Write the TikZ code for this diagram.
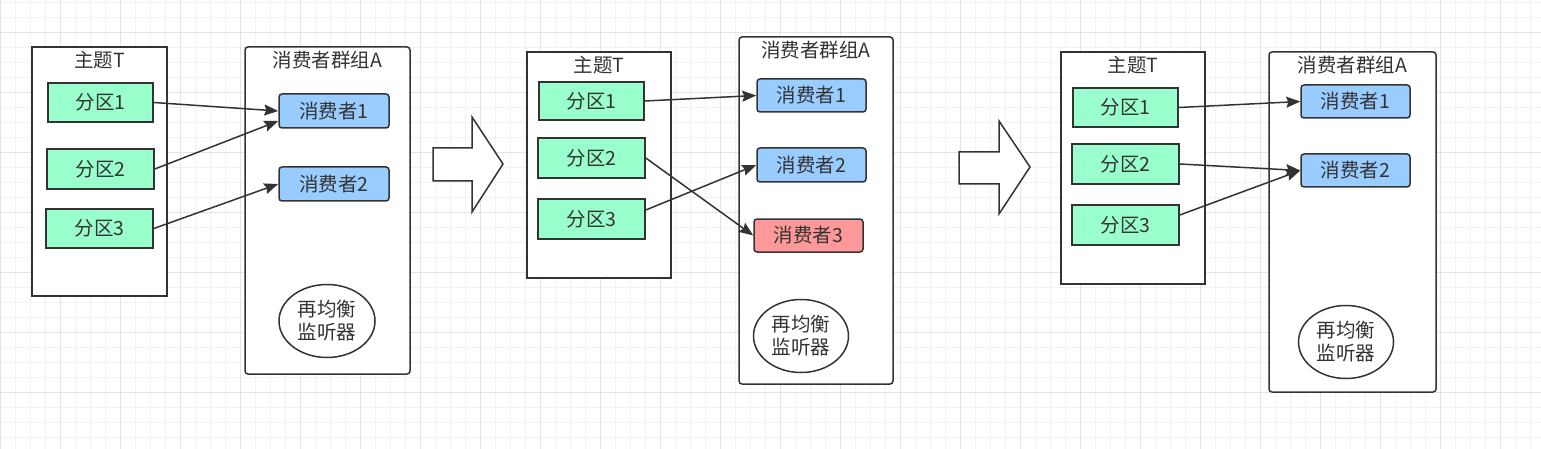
\documentclass[tikz,border=0pt]{standalone}
\usepackage{fontspec}
\setmainfont{Noto Sans CJK SC}
\usetikzlibrary{arrows.meta,shapes.geometric}
\definecolor{gridminor}{HTML}{F2F2F2}
\definecolor{gridmajor}{HTML}{E4E4E4}
\definecolor{pgreen}{HTML}{99FFCC}
\definecolor{cblue}{HTML}{99CCFF}
\definecolor{cred}{HTML}{FF9999}
\definecolor{edge}{HTML}{333333}
\tikzset{
  txt/.style={font=\fontsize{19.5}{23}\selectfont, text=edge},
  frame/.style={draw=edge, line width=1.5pt, fill=white, inner sep=0pt},
  gframe/.style={frame, rounded corners=3pt},
  part/.style={draw=edge, line width=1.5pt, fill=pgreen, inner sep=0pt, txt},
  cons/.style={draw=edge, line width=1.5pt, fill=cblue, rounded corners=3pt, inner sep=0pt, txt},
  consr/.style={cons, fill=cred},
  lis/.style={ellipse, draw=edge, line width=1.5pt, fill=white, inner sep=0pt, txt, align=center},
  ttl/.style={txt, inner sep=0pt},
  link/.style={draw=edge, line width=1.5pt, -{Stealth[length=14pt,width=11pt,inset=2pt]}},
  bigarrow/.style={draw=edge, line width=1.5pt, fill=white, line join=miter},
}
\begin{document}
\begin{tikzpicture}[x=1pt,y=-1pt]
\useasboundingbox (0,0) rectangle (1541,449);
% background grid
\fill[white] (0,0) rectangle (1541,449);
\foreach \i in {0,...,103} {\draw[gridminor, line width=0.8pt] (0.7+15*\i,0) -- (0.7+15*\i,449);}
\foreach \j in {0,...,29} {\draw[gridminor, line width=0.8pt] (0,2+15*\j) -- (1541,2+15*\j);}
\foreach \i in {0,...,25} {\draw[gridmajor, line width=0.8pt] (0.7+60*\i,0) -- (0.7+60*\i,449);}
\foreach \j in {0,...,7} {\draw[gridmajor, line width=0.8pt] (0,32+60*\j) -- (1541,32+60*\j);}

% ---------- panel 1 ----------
\node[frame, minimum width=135pt, minimum height=249pt] (t1) at (99.5,171.5) {};
\node[ttl] (t1t) at (99.5,60) {主题T};
\node[part, minimum width=105pt, minimum height=39pt] (p11) at (100.5,102.5) {分区1};
\node[part, minimum width=107pt, minimum height=40pt] (p12) at (100.5,169) {分区2};
\node[part, minimum width=107pt, minimum height=39pt] (p13) at (99.5,228.5) {分区3};
\node[gframe, minimum width=165pt, minimum height=327pt] (g1) at (327.5,210.5) {};
\node[ttl] (g1t) at (327.5,60) {消费者群组A};
\node[cons, minimum width=110pt, minimum height=34pt] (c11) at (334,111) {消费者1};
\node[cons, minimum width=110pt, minimum height=34pt] (c12) at (334,184) {消费者2};
\node[lis, minimum width=96pt, minimum height=73pt] (e1) at (327,321) {再均衡\\监听器};
\draw[link] (p11.east) -- (c11.west);
\draw[link] (p12.east) -- ([yshift=-10pt]c11.west);
\draw[link] (p13.east) -- (c12.west);

% ---------- arrow 1 ----------
\draw[bigarrow] (433,148) -- (472,148) -- (472,117) -- (503,164) -- (472,212) -- (472,181) -- (433,181) -- cycle;

% ---------- panel 2 ----------
\node[frame, minimum width=144pt, minimum height=226pt] (t2) at (599,165) {};
\node[ttl] (t2t) at (599,65) {主题T};
\node[part, minimum width=105pt, minimum height=38pt] (p21) at (591.5,101) {分区1};
\node[part, minimum width=107pt, minimum height=40pt] (p22) at (591.5,158) {分区2};
\node[part, minimum width=107pt, minimum height=40pt] (p23) at (591.5,219) {分区3};
\node[gframe, minimum width=154pt, minimum height=347pt] (g2) at (816,210.5) {};
\node[ttl] (g2t) at (816,50) {消费者群组A};
\node[cons, minimum width=109pt, minimum height=33pt] (c21) at (811.5,95.5) {消费者1};
\node[cons, minimum width=109pt, minimum height=34pt] (c22) at (811.5,165) {消费者2};
\node[consr, minimum width=109pt, minimum height=33pt] (c23) at (808.5,235.5) {消费者3};
\node[lis, minimum width=95pt, minimum height=73pt] (e2) at (801,336) {再均衡\\监听器};
\draw[link] (p21.east) -- (c21.west);
\draw[link] (p22.east) -- (c23.west);
\draw[link] ([yshift=9pt]p23.east) -- (c22.west);

% ---------- arrow 2 ----------
\draw[bigarrow] (959,152) -- (999,152) -- (999,121) -- (1030,167) -- (999,214) -- (999,184) -- (959,184) -- cycle;

% ---------- panel 3 ----------
\node[frame, minimum width=144pt, minimum height=232pt] (t3) at (1133,168) {};
\node[ttl] (t3t) at (1133,65) {主题T};
\node[part, minimum width=105pt, minimum height=39pt] (p31) at (1125.5,107.5) {分区1};
\node[part, minimum width=107pt, minimum height=40pt] (p32) at (1125.5,164) {分区2};
\node[part, minimum width=107pt, minimum height=40pt] (p33) at (1125.5,225) {分区3};
\node[gframe, minimum width=167pt, minimum height=340pt] (g3) at (1352.5,222) {};
\node[ttl] (g3t) at (1352.5,65) {消费者群组A};
\node[cons, minimum width=109pt, minimum height=33pt] (c31) at (1355.5,101.5) {消费者1};
\node[cons, minimum width=109pt, minimum height=33pt] (c32) at (1355.5,170.5) {消费者2};
\node[lis, minimum width=95pt, minimum height=73pt] (e3) at (1346,342) {再均衡\\监听器};
\draw[link] (p31.east) -- (c31.west);
\draw[link] (p32.east) -- (c32.west);
\draw[link] ([yshift=10pt]p33.east) -- (c32.west);
\end{tikzpicture}
\end{document}
